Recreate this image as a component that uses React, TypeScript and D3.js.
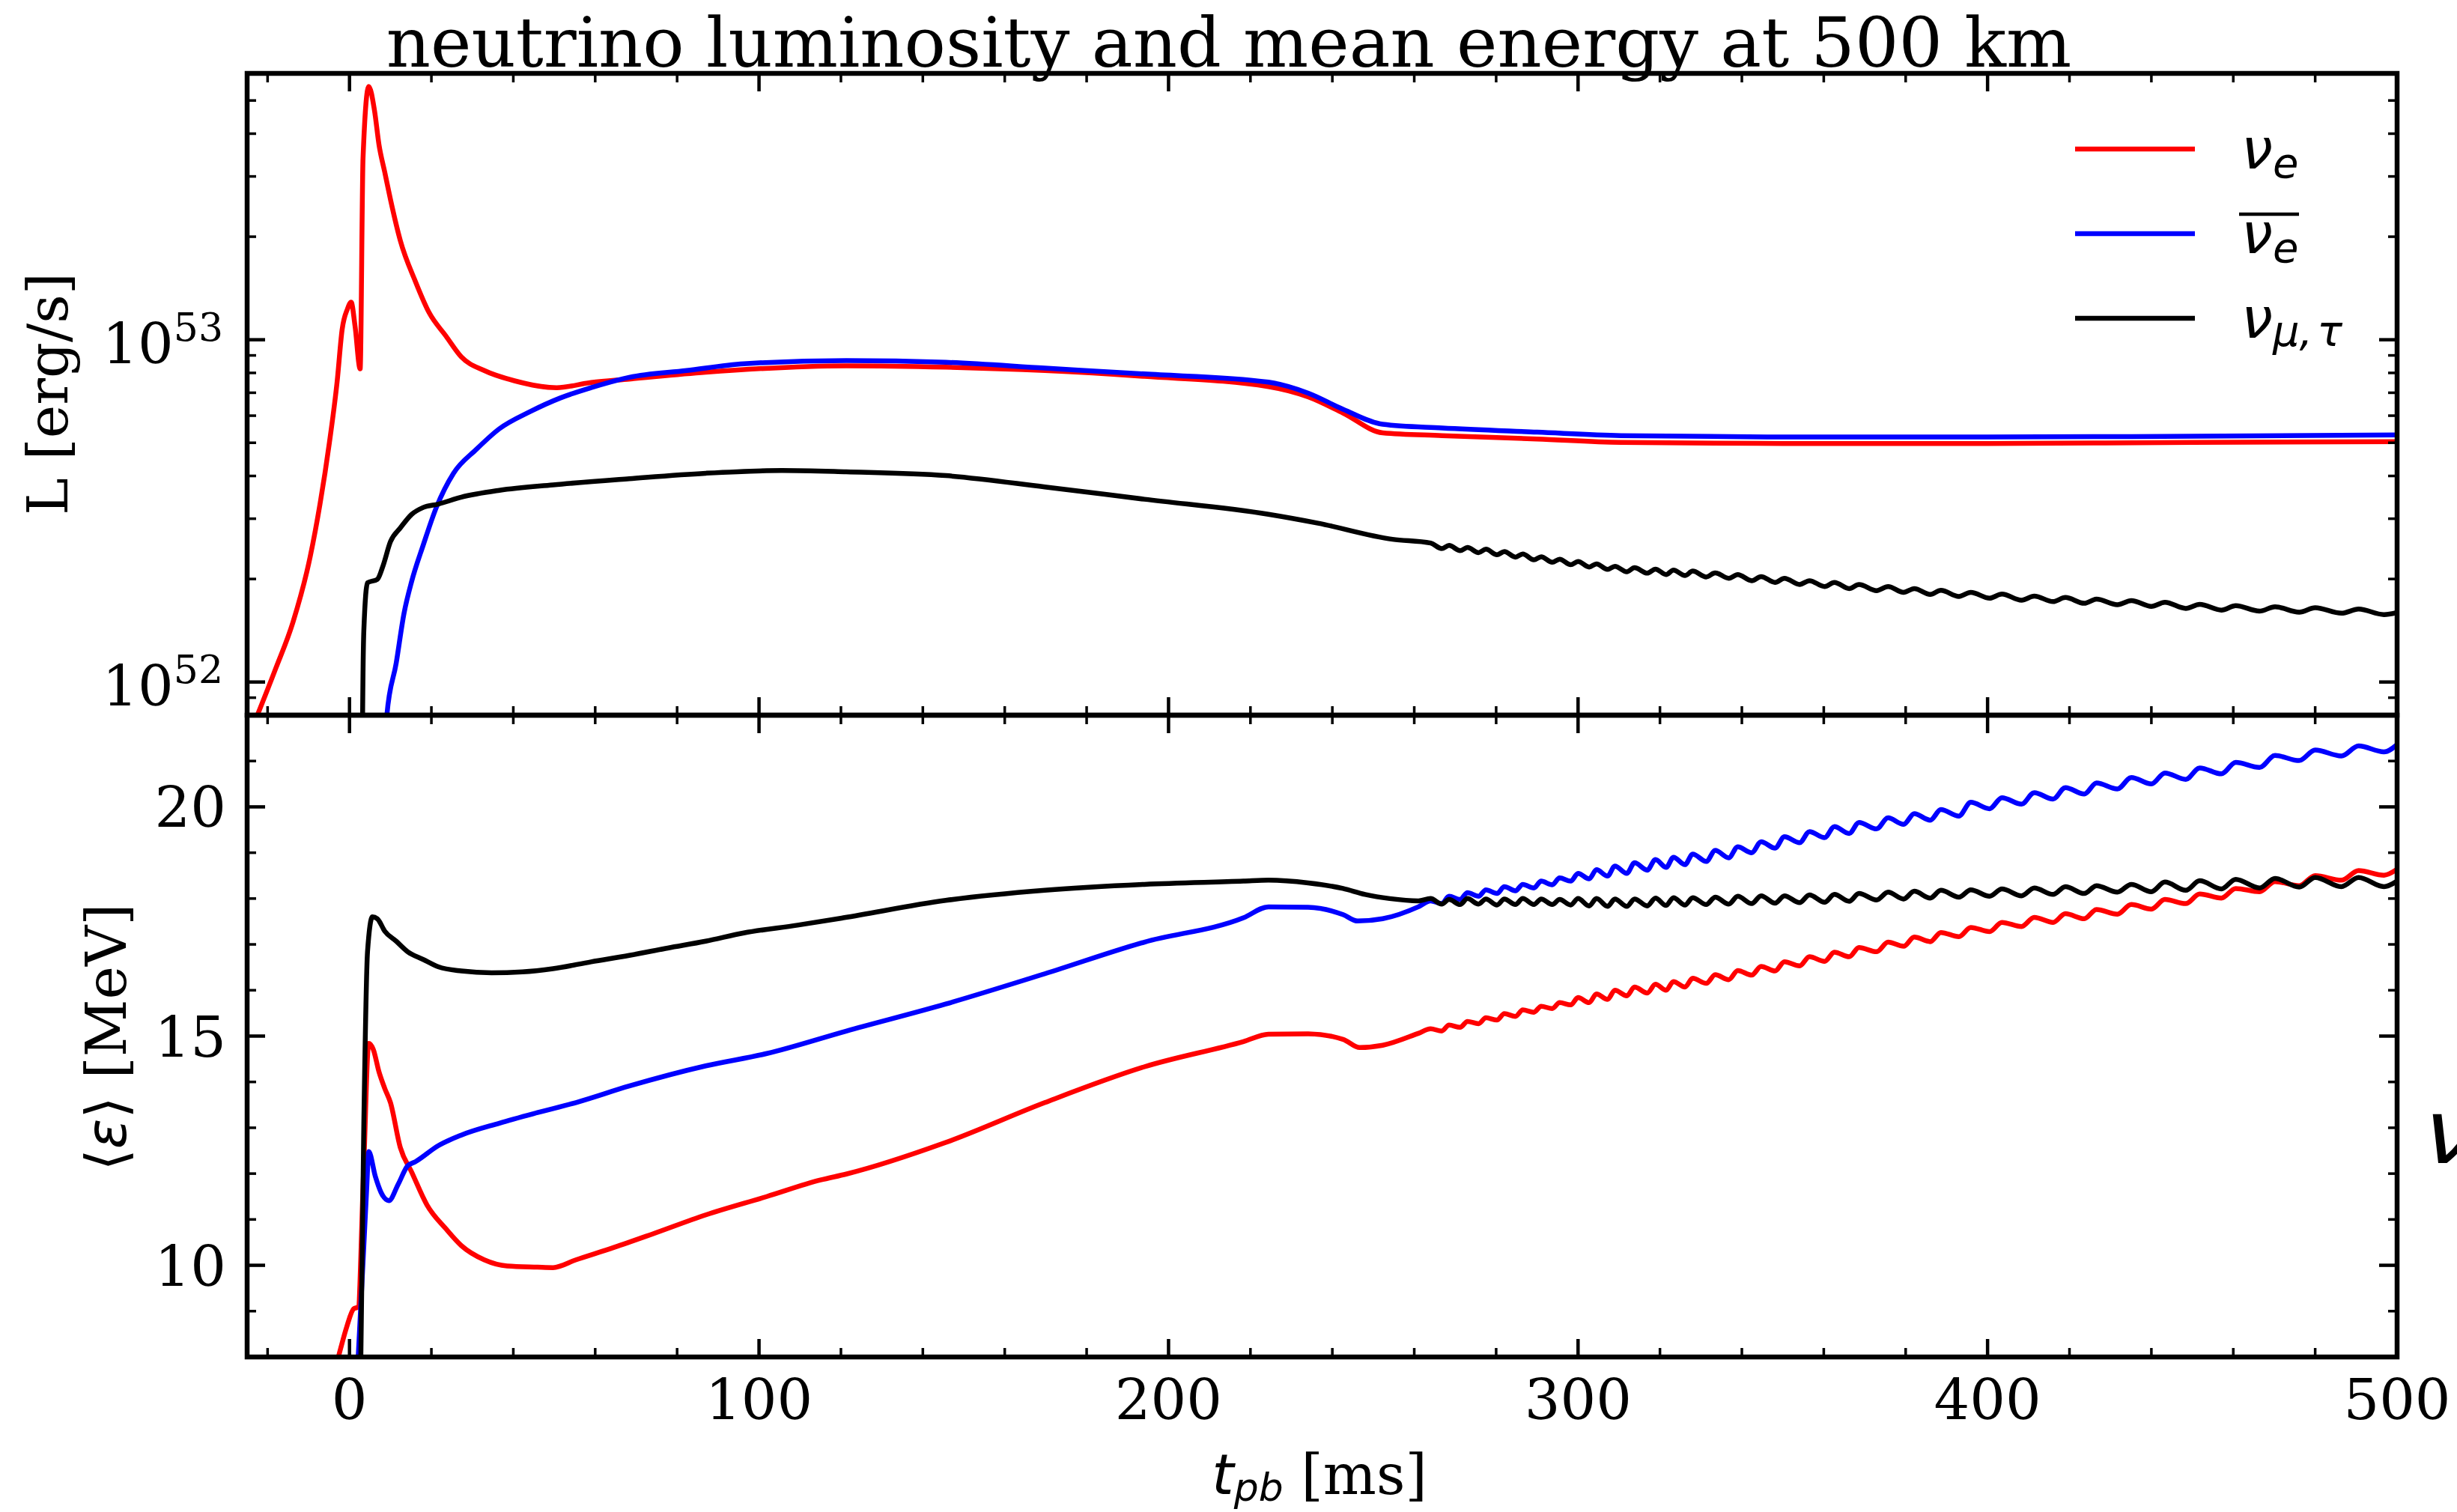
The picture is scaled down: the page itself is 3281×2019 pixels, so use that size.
import React from "react";
import * as d3 from "d3";

// ---------------- data ----------------
const titleText = "neutrino luminosity and mean energy at 500 km";

const xTickValues = [0, 100, 200, 300, 400, 500];
const xTickLabels = ["0", "100", "200", "300", "400", "500"];
const xMinorValues = [-20, 20, 40, 60, 80, 120, 140, 160, 180, 220, 240, 260, 280, 320, 340, 360, 380, 420, 440, 460, 480];

const lumTickValues = [1e52, 1e53];
const lumTickExponents = ["52", "53"];
const lumMinorValues = [9e51, 2e52, 3e52, 4e52, 5e52, 6e52, 7e52, 8e52, 9e52, 2e53, 3e53, 4e53, 5e53];

const enTickValues = [10, 15, 20];
const enTickLabels = ["10", "15", "20"];
const enMinorValues = [9, 11, 12, 13, 14, 16, 17, 18, 19, 21];

// luminosity, log10(L [erg/s]) — early / smooth phase: [t_pb ms, log10 L]
const logLumNuE: [number, number][] = [
  [-26, 51.8], [-22.6, 51.9], [-18, 52.04], [-13.8, 52.175], [-9.6, 52.366], [-7.2, 52.52],
  [-4.9, 52.7], [-3.0, 52.88], [-1.8, 53.03], [-0.5, 53.09], [0.4, 53.11], [1.35, 53.04],
  [2.6, 52.915], [3.3, 53.53], [4.7, 53.74], [6.1, 53.67], [7.2, 53.57], [8.6, 53.49],
  [10.0, 53.41], [12.4, 53.29], [16.1, 53.17], [19.4, 53.08], [23.6, 53.01], [27.3, 52.95],
  [32.9, 52.91], [40.3, 52.88], [50.6, 52.86], [59, 52.875], [68.3, 52.885], [87, 52.905],
  [121.3, 52.924], [145.6, 52.92], [169.8, 52.91], [194.1, 52.893], [224.4, 52.863],
  [234.1, 52.833], [242.6, 52.786], [252.3, 52.728], [266.8, 52.72], [290, 52.71],
  [310.5, 52.7], [350, 52.697], [400, 52.697], [450, 52.7], [500, 52.702],
];
const logLumNuEBar: [number, number][] = [
  [8.5, 51.8], [9.1, 51.9], [11.4, 52.055], [13.3, 52.2], [15.2, 52.295], [18, 52.4],
  [21.2, 52.51], [25.4, 52.61], [31, 52.68], [36.6, 52.74], [44.1, 52.79], [51.5, 52.83],
  [59, 52.86], [68.3, 52.89], [82.3, 52.91], [96.3, 52.93], [121.3, 52.939], [145.6, 52.934],
  [169.8, 52.917], [194.1, 52.9], [224.4, 52.876], [234.1, 52.844], [242.6, 52.797],
  [252.3, 52.753], [266.8, 52.742], [290, 52.73], [310.5, 52.72], [350, 52.716],
  [400, 52.716], [450, 52.718], [500, 52.722],
];
const logLumNuXEarly: [number, number][] = [
  [3.0, 51.5], [3.2, 51.9], [3.5, 52.15], [4.4, 52.29], [6.8, 52.3], [8.2, 52.34], [10, 52.41],
  [12.4, 52.45], [15.2, 52.49], [18, 52.51], [21.7, 52.52], [27.3, 52.54], [36.6, 52.56],
  [49.7, 52.576], [68.3, 52.594], [87, 52.61], [105.6, 52.618], [121.3, 52.614],
  [145.6, 52.603], [169.8, 52.57], [194.1, 52.534], [224.4, 52.49], [236.5, 52.464],
  [254.7, 52.417],
];

// mean energy [MeV] — early / smooth phase
const enNuEEarly: [number, number][] = [
  [-3.5, 7.75], [-2.6, 8.04], [-0.7, 8.65], [1.0, 9.05], [2.1, 9.09], [3.5, 12.21], [4.7, 14.84],
  [5.8, 14.71], [7.2, 14.22], [8.6, 13.86], [10, 13.55], [12.4, 12.57], [15.2, 12.03],
  [18.9, 11.32], [23.6, 10.79], [27.3, 10.43], [32.9, 10.12], [38.5, 9.985], [45.9, 9.96],
  [49.7, 9.95], [55.3, 10.12], [64.6, 10.39], [73.9, 10.68], [87, 11.1], [101.9, 11.5],
  [115, 11.86], [121.3, 11.99], [145.6, 12.68], [169.8, 13.55], [194.1, 14.33],
  [218.3, 14.88], [224.4, 15.04], [234.1, 15.05], [242.6, 14.93], [246.7, 14.75],
  [252.3, 14.8], [261, 15.06],
];
const enNuEBarEarly: [number, number][] = [
  [1.9, 7.6], [3.5, 10.43], [4.2, 11.68], [4.7, 12.48], [6.3, 11.94], [7.7, 11.59], [9.6, 11.41],
  [11.9, 11.77], [14.2, 12.17], [16.1, 12.26], [21.7, 12.61], [27.3, 12.84], [36.6, 13.1],
  [45.9, 13.33], [55.3, 13.55], [68.3, 13.91], [87, 14.35], [101.9, 14.62], [121.3, 15.11],
  [145.6, 15.7], [169.8, 16.36], [194.1, 17.05], [218.3, 17.58], [224.4, 17.82],
  [234.1, 17.81], [242.6, 17.65], [246.2, 17.51], [252.3, 17.56], [261, 17.82],
];
const enNuXEarly: [number, number][] = [
  [2.7, 7.5], [3.5, 13.1], [4.4, 16.84], [5.6, 17.6], [6.8, 17.56], [8.6, 17.29], [11.4, 17.07],
  [14.2, 16.84], [18, 16.67], [21.7, 16.51], [27.3, 16.42], [34.7, 16.38], [42.2, 16.4],
  [49.7, 16.47], [59, 16.62], [68.3, 16.76], [77.7, 16.92], [87, 17.07], [96.3, 17.25],
  [109.4, 17.42], [120.6, 17.58], [145.6, 17.96], [169.8, 18.18], [194.1, 18.31],
  [218.3, 18.38], [224.4, 18.4], [234.1, 18.34], [242.6, 18.22], [248, 18.09], [254, 18.0],
  [261, 17.95],
];

// late phase with oscillations: shared sample times (peaks / troughs)
const lateT = [
  264.0, 266.7, 268.5, 271.2, 273.0, 275.7, 277.5, 280.2, 282.0, 284.7, 286.5, 289.2, 291.0, 293.7,
  295.5, 298.2, 300.0, 302.7, 304.5, 307.2, 309.0, 311.9, 313.8, 316.9, 318.9, 321.5, 323.3, 326.1,
  328.0, 331.3, 333.5, 336.8, 339.0, 342.4, 344.7, 348.1, 350.4, 354.1, 356.5, 360.2, 362.6, 366.2,
  368.6, 372.9, 375.7, 379.5, 382.1, 386.0, 388.6, 393.0, 395.9, 400.5, 403.5, 408.3, 411.4, 416.0,
  419.0, 423.6, 426.6, 431.7, 435.1, 440.0, 443.3, 448.4, 451.8, 457.1, 460.6, 466.4, 470.2, 476.1,
  480.0, 486.4, 490.6, 496.8, 500.0,
];
const lateLogLumNuX = [
  52.406, 52.39, 52.399, 52.384, 52.393, 52.378, 52.388, 52.372, 52.381, 52.365, 52.374, 52.357,
  52.366, 52.35, 52.359, 52.343, 52.352, 52.336, 52.345, 52.329, 52.338, 52.322, 52.334, 52.318,
  52.33, 52.314, 52.327, 52.311, 52.324, 52.307, 52.319, 52.303, 52.314, 52.296, 52.308, 52.291,
  52.303, 52.285, 52.296, 52.279, 52.291, 52.273, 52.285, 52.267, 52.279, 52.262, 52.273, 52.256,
  52.268, 52.25, 52.262, 52.245, 52.257, 52.239, 52.251, 52.235, 52.247, 52.23, 52.242, 52.226,
  52.238, 52.221, 52.233, 52.215, 52.227, 52.21, 52.223, 52.207, 52.22, 52.204, 52.217, 52.201,
  52.213, 52.197, 52.203,
];
const lateEnNuE = [
  15.16, 15.11, 15.24, 15.19, 15.32, 15.27, 15.4, 15.35, 15.49, 15.43, 15.57, 15.52, 15.65, 15.6,
  15.73, 15.68, 15.84, 15.73, 15.92, 15.8, 16.0, 15.88, 16.07, 15.94, 16.13, 16.0, 16.19, 16.07,
  16.26, 16.15, 16.34, 16.23, 16.43, 16.33, 16.52, 16.42, 16.62, 16.53, 16.73, 16.63, 16.83, 16.73,
  16.93, 16.84, 17.05, 16.96, 17.16, 17.06, 17.26, 17.17, 17.37, 17.28, 17.48, 17.39, 17.59, 17.48,
  17.67, 17.56, 17.76, 17.66, 17.87, 17.77, 17.98, 17.89, 18.1, 18.01, 18.22, 18.15, 18.37, 18.28,
  18.5, 18.4, 18.61, 18.51, 18.64,
];
const lateEnNuEBar = [
  17.95, 17.89, 18.05, 17.98, 18.13, 18.05, 18.19, 18.11, 18.26, 18.17, 18.31, 18.23, 18.38, 18.3,
  18.45, 18.38, 18.55, 18.43, 18.63, 18.49, 18.71, 18.55, 18.78, 18.62, 18.85, 18.68, 18.9, 18.74,
  18.97, 18.81, 19.05, 18.89, 19.13, 19.0, 19.24, 19.1, 19.35, 19.22, 19.46, 19.33, 19.57, 19.42,
  19.66, 19.52, 19.76, 19.62, 19.85, 19.71, 19.94, 19.8, 20.1, 19.96, 20.2, 20.06, 20.31, 20.17,
  20.42, 20.28, 20.52, 20.39, 20.64, 20.5, 20.74, 20.6, 20.85, 20.72, 20.97, 20.86, 21.12, 21.01,
  21.24, 21.11, 21.33, 21.2, 21.36,
];
const lateEnNuX = [
  18.0, 17.88, 17.98, 17.87, 18.0, 17.88, 17.99, 17.86, 17.99, 17.87, 18.0, 17.87, 17.99, 17.87,
  17.98, 17.86, 18.0, 17.84, 18.0, 17.83, 17.99, 17.83, 17.99, 17.84, 18.01, 17.85, 18.02, 17.86,
  18.02, 17.87, 18.03, 17.88, 18.05, 17.89, 18.06, 17.9, 18.06, 17.91, 18.08, 17.92, 18.09, 17.94,
  18.11, 17.97, 18.14, 17.99, 18.16, 18.01, 18.18, 18.03, 18.19, 18.05, 18.21, 18.06, 18.23, 18.09,
  18.26, 18.11, 18.28, 18.14, 18.31, 18.15, 18.36, 18.18, 18.39, 18.21, 18.42, 18.23, 18.44, 18.25,
  18.46, 18.26, 18.46, 18.26, 18.38,
];

// ---------------- layout ----------------
const W = 3281;
const H = 2019;
const L = 330;
const R = 3201;
const T1 = 98;
const MID = 955;
const B2 = 1812;

const RED = "#ff0000";
const BLUE = "#0000ff";
const BLACK = "#000000";
const SERIF = "DejaVu Serif";
const SANS = "DejaVu Sans";

const zipLate = (vals: number[]): [number, number][] => lateT.map((t, i) => [t, vals[i]]);

export default function App() {
  const x = d3.scaleLinear().domain([-25, 500]).range([L, R]);
  const yL = d3.scaleLog().domain([8e51, 6e53]).range([MID, T1]);
  const yE = d3.scaleLinear().domain([8, 22]).range([B2, MID]);

  const lumLine = d3
    .line<[number, number]>()
    .x((d) => x(d[0]))
    .y((d) => yL(Math.pow(10, d[1])))
    .curve(d3.curveMonotoneX);
  const enLine = d3
    .line<[number, number]>()
    .x((d) => x(d[0]))
    .y((d) => yE(d[1]))
    .curve(d3.curveMonotoneX);

  const lumSeries = [
    { color: RED, data: logLumNuE },
    { color: BLUE, data: logLumNuEBar },
    { color: BLACK, data: [...logLumNuXEarly, ...zipLate(lateLogLumNuX)] },
  ];
  const enSeries = [
    { color: RED, data: [...enNuEEarly, ...zipLate(lateEnNuE)] },
    { color: BLUE, data: [...enNuEBarEarly, ...zipLate(lateEnNuEBar)] },
    { color: BLACK, data: [...enNuXEarly, ...zipLate(lateEnNuX)] },
  ];

  const MAJ = 24;
  const MIN = 12;
  const tickMajW = 4.5;
  const tickMinW = 3.5;
  const LW = 6.5;

  const xTicksFor = (top: number, bottom: number, key: string) => (
    <g key={key}>
      {xTickValues.map((v) => (
        <g key={"M" + v}>
          <line x1={x(v)} x2={x(v)} y1={top} y2={top + MAJ} stroke="#000" strokeWidth={tickMajW} />
          <line x1={x(v)} x2={x(v)} y1={bottom} y2={bottom - MAJ} stroke="#000" strokeWidth={tickMajW} />
        </g>
      ))}
      {xMinorValues.map((v) => (
        <g key={"m" + v}>
          <line x1={x(v)} x2={x(v)} y1={top} y2={top + MIN} stroke="#000" strokeWidth={tickMinW} />
          <line x1={x(v)} x2={x(v)} y1={bottom} y2={bottom - MIN} stroke="#000" strokeWidth={tickMinW} />
        </g>
      ))}
    </g>
  );

  const yTicks = (vals: number[], scale: (v: number) => number, len: number, w: number, key: string) => (
    <g key={key}>
      {vals.map((v) => (
        <g key={key + v}>
          <line x1={L} x2={L + len} y1={scale(v)} y2={scale(v)} stroke="#000" strokeWidth={w} />
          <line x1={R} x2={R - len} y1={scale(v)} y2={scale(v)} stroke="#000" strokeWidth={w} />
        </g>
      ))}
    </g>
  );

  return (
    <svg
      width={W}
      height={H}
      viewBox={`0 0 ${W} ${H}`}
      style={{ position: "absolute", left: 0, top: 0, background: "#fff" }}
      xmlns="http://www.w3.org/2000/svg"
    >
      <rect x={0} y={0} width={W} height={H} fill="#fff" />
      <defs>
        <clipPath id="clipTop">
          <rect x={L} y={T1} width={R - L} height={MID - T1} />
        </clipPath>
        <clipPath id="clipBot">
          <rect x={L} y={MID} width={R - L} height={B2 - MID} />
        </clipPath>
      </defs>

      {/* title */}
      <text x={1641} y={89} textAnchor="middle" fontFamily={SERIF} fontSize={92} fill="#000">
        {titleText}
      </text>

      {/* data lines */}
      <g clipPath="url(#clipTop)">
        {lumSeries.map((s, i) => (
          <path key={i} d={lumLine(s.data) || ""} fill="none" stroke={s.color} strokeWidth={LW} strokeLinejoin="round" />
        ))}
      </g>
      <g clipPath="url(#clipBot)">
        {enSeries.map((s, i) => (
          <path key={i} d={enLine(s.data) || ""} fill="none" stroke={s.color} strokeWidth={LW} strokeLinejoin="round" />
        ))}
      </g>

      {/* ticks */}
      {xTicksFor(T1, MID, "xt1")}
      {xTicksFor(MID, B2, "xt2")}
      {yTicks(lumTickValues, (v) => yL(v), MAJ, tickMajW, "lM")}
      {yTicks(lumMinorValues, (v) => yL(v), MIN, tickMinW, "lm")}
      {yTicks(enTickValues, (v) => yE(v), MAJ, tickMajW, "eM")}
      {yTicks(enMinorValues, (v) => yE(v), MIN, tickMinW, "em")}

      {/* spines */}
      <rect x={L} y={T1} width={R - L} height={MID - T1} fill="none" stroke="#000" strokeWidth={6.5} />
      <rect x={L} y={MID} width={R - L} height={B2 - MID} fill="none" stroke="#000" strokeWidth={6.5} />

      {/* y tick labels, top (log) */}
      {lumTickValues.map((v, i) => (
        <text key={"lt" + i} x={298} y={yL(v) + 31} textAnchor="end" fontFamily={SERIF} fontSize={75} fill="#000">
          10
          <tspan fontSize={52} dy={-30}>
            {lumTickExponents[i]}
          </tspan>
        </text>
      ))}
      {/* y tick labels, bottom */}
      {enTickValues.map((v, i) => (
        <text key={"et" + i} x={302} y={yE(v) + 27} textAnchor="end" fontFamily={SERIF} fontSize={75} fill="#000">
          {enTickLabels[i]}
        </text>
      ))}
      {/* x tick labels */}
      {xTickValues.map((v, i) => (
        <text key={"xl" + i} x={x(v)} y={1895} textAnchor="middle" fontFamily={SERIF} fontSize={75} fill="#000">
          {xTickLabels[i]}
        </text>
      ))}

      {/* axis labels */}
      <text transform="translate(90,526) rotate(-90)" textAnchor="middle" fontFamily={SERIF} fontSize={75} fill="#000">
        L [erg/s]
      </text>
      <text transform="translate(168,1385) rotate(-90)" textAnchor="middle" fontFamily={SERIF} fontSize={75} fill="#000">
        <tspan fontFamily={SANS}>⟨</tspan>
        <tspan fontFamily={SANS} fontStyle="italic">ε</tspan>
        <tspan fontFamily={SANS}>⟩</tspan>
        <tspan> [MeV]</tspan>
      </text>
      <text x={1762} y={1995} textAnchor="middle" fontFamily={SERIF} fontSize={75} fill="#000">
        <tspan fontFamily={SANS} fontStyle="italic">t</tspan>
        <tspan fontFamily={SANS} fontStyle="italic" fontSize={52} dy={9}>pb</tspan>
        <tspan dy={-9}> [ms]</tspan>
      </text>

      {/* legend */}
      <line x1={2771} x2={2931} y1={199} y2={199} stroke={RED} strokeWidth={LW} />
      <line x1={2771} x2={2931} y1={312} y2={312} stroke={BLUE} strokeWidth={LW} />
      <line x1={2771} x2={2931} y1={425} y2={425} stroke={BLACK} strokeWidth={LW} />
      <text x={2993} y={225} fontFamily={SANS} fontStyle="italic" fontSize={75} fill="#000">
        ν<tspan fontSize={56} dy={12}>e</tspan>
      </text>
      <line x1={2990} x2={3070} y1={286} y2={286} stroke="#000" strokeWidth={4.5} />
      <text x={2993} y={338} fontFamily={SANS} fontStyle="italic" fontSize={75} fill="#000">
        ν<tspan fontSize={56} dy={12}>e</tspan>
      </text>
      <text x={2993} y={451} fontFamily={SANS} fontStyle="italic" fontSize={75} fill="#000">
        ν<tspan fontSize={56} dy={11}>μ,</tspan>
        <tspan fontSize={56} dx={6}>τ</tspan>
      </text>

      {/* glyph at right edge, partly outside the figure as in the reference */}
      <text x={3238} y={1553} fontFamily={SANS} fontStyle="italic" fontSize={120} fill="#000">
        ν
      </text>
    </svg>
  );
}
